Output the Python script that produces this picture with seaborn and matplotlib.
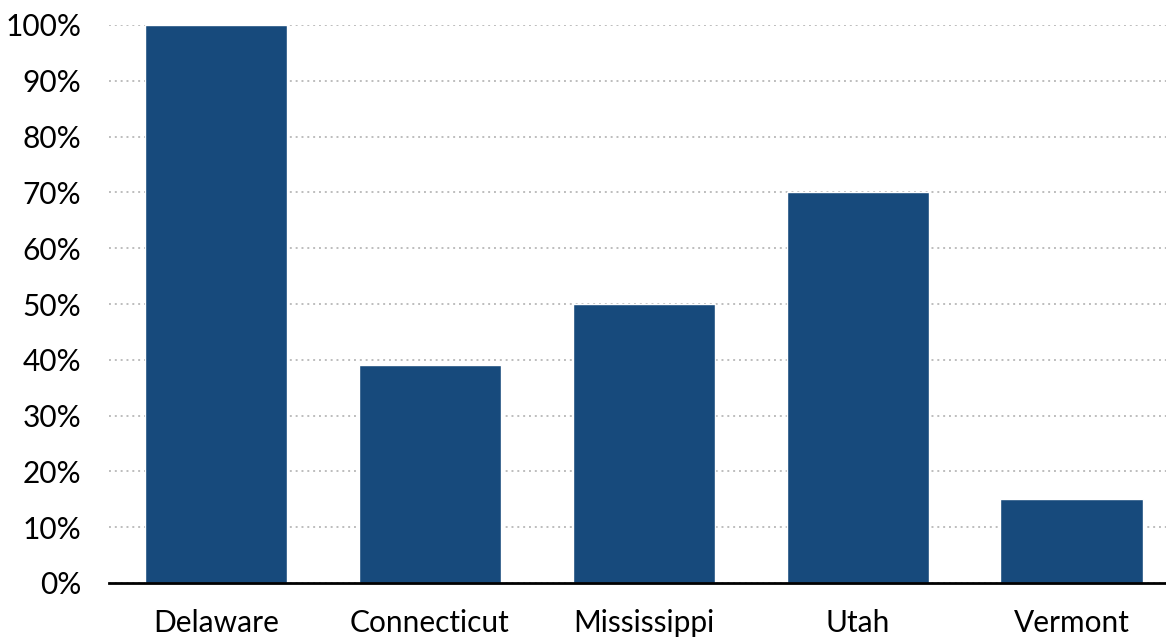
import matplotlib
matplotlib.use('Agg')
import matplotlib.pyplot as plt
import seaborn as sns
import pandas as pd
from matplotlib.ticker import FuncFormatter

# chart data
states = ["Delaware", "Connecticut", "Mississippi", "Utah", "Vermont"]
share = [100, 39, 50, 70, 15]
y_ticks = [0, 10, 20, 30, 40, 50, 60, 70, 80, 90, 100]

df = pd.DataFrame({"state": states, "share": share})

sns.set_style("white")
plt.rcParams['font.family'] = ['Lato', 'DejaVu Sans']

fig = plt.figure(figsize=(11.66, 6.37), dpi=100)
ax = fig.add_axes([109 / 1166, 54 / 637, 1 - 109 / 1166, (583 - 25) / 637])

sns.barplot(data=df, x="state", y="share", color="#174a7c", width=0.667,
            saturation=1, ax=ax, zorder=3)

ax.set_ylim(0, 100)
ax.set_xlim(-0.5, 4.44)
ax.set_yticks(y_ticks)
ax.yaxis.set_major_formatter(FuncFormatter(lambda v, _: f"{v:.0f}%"))
ax.yaxis.grid(True, linestyle=(0, (1, 2)), color="#bdbdbd", linewidth=1.4, zorder=0)
ax.set_axisbelow(True)

for side in ["top", "right", "left"]:
    ax.spines[side].set_visible(False)
ax.spines["bottom"].set_color("black")
ax.spines["bottom"].set_linewidth(2)
ax.spines["bottom"].set_zorder(4)

ax.tick_params(axis="both", length=0, labelsize=21.5, colors="black")
ax.tick_params(axis="x", pad=19)
ax.tick_params(axis="y", pad=20)
ax.set_xlabel("")
ax.set_ylabel("")

fig.savefig("out.png", dpi=100)
plt.close()
